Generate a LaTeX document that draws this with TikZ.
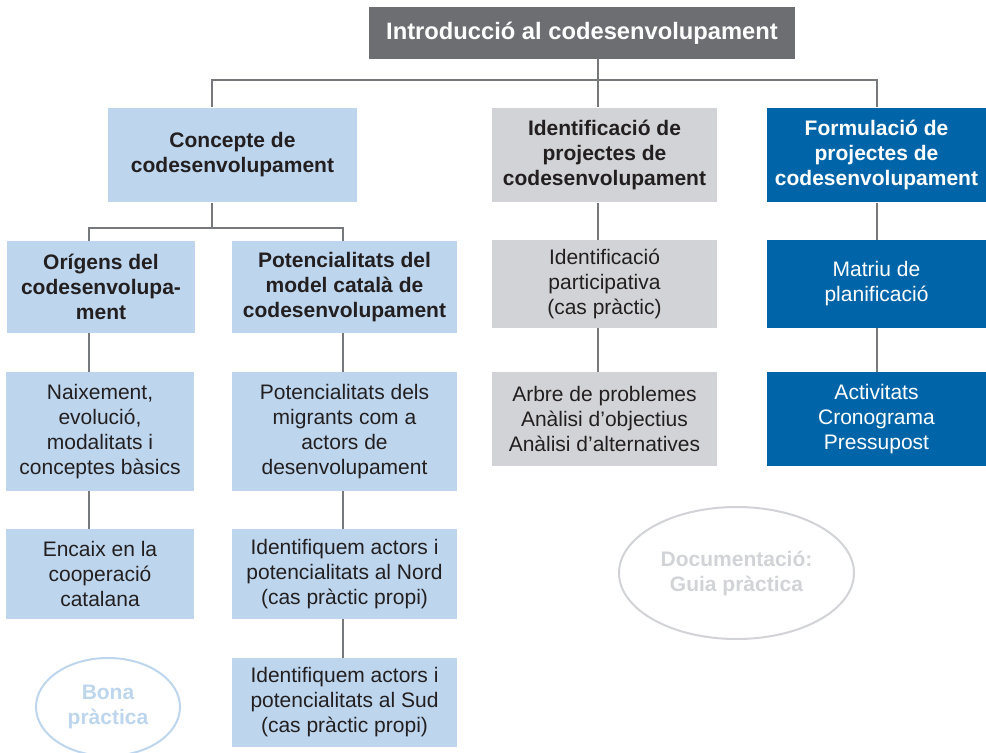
\documentclass[tikz,border=0pt]{standalone}
\usepackage{fontspec}
\setmainfont{Liberation Sans}
\usepackage{tikz}
\usepackage{xcolor}
\usetikzlibrary{shapes.geometric}

\definecolor{lightblue}{HTML}{BDD6EE}
\definecolor{lightgrey}{HTML}{D1D3D6}
\definecolor{darkblue}{HTML}{0065A8}
\definecolor{titlegrey}{HTML}{6D6E72}
\definecolor{linegrey}{HTML}{77787B}
\definecolor{textdark}{HTML}{231F20}

\tikzset{
    box/.style={rectangle, inner sep=0pt, align=center, text=textdark,
        font=\fontsize{15.75}{18.75}\selectfont},
    bluebox/.style={box, fill=lightblue},
    greybox/.style={box, fill=lightgrey},
    navybox/.style={box, fill=darkblue, text=white},
    headbox/.style={font=\fontsize{15.75}{18.75}\selectfont\bfseries},
    link/.style={draw=linegrey, line width=1.5pt},
    bubble/.style={ellipse, line width=1.5pt, align=center,
        font=\fontsize{15.75}{18.75}\selectfont\bfseries}
}

\begin{document}
\begin{tikzpicture}[x=0.75pt, y=-0.75pt]
    \useasboundingbox (0,0) rectangle (986,753);

    % Title
    \node[box, fill=titlegrey, text=white, minimum width=319.5pt, minimum height=39pt,
        font=\fontsize{17.8}{21}\selectfont\bfseries] (intro) at (582,33) {Introducció al codesenvolupament};

    % Main blocks
    \node[bluebox, headbox, minimum width=186.75pt, minimum height=71pt] (concepte) at (232.5,155) {Concepte de\\codesenvolupament};
    \node[greybox, headbox, minimum width=168.75pt, minimum height=71pt] (identif) at (604.5,155) {Identificació de\\projectes de\\codesenvolupament};
    \node[navybox, headbox, minimum width=164.25pt, minimum height=71pt] (formul) at (876.5,155) {Formulació de\\projectes de\\codesenvolupament};

    % Concepte branch
    \node[bluebox, headbox, minimum width=141pt, minimum height=69pt] (origens) at (101,287) {Orígens del\\codesenvolupa-\\ment};
    \node[bluebox, headbox, minimum width=168.75pt, minimum height=69pt] (potenc) at (344.5,287) {Potencialitats del\\model català de\\codesenvolupament};
    \node[bluebox, minimum width=141pt, minimum height=89.25pt] (naix) at (100,431.5) {Naixement,\\evolució,\\modalitats i\\conceptes bàsics};
    \node[bluebox, minimum width=141pt, minimum height=67.5pt] (encaix) at (100,574) {Encaix en la\\cooperació\\catalana};
    \node[bluebox, minimum width=168.75pt, minimum height=89.25pt] (potdels) at (344.5,431.5) {Potencialitats dels\\migrants com a\\actors de\\desenvolupament};
    \node[bluebox, minimum width=168.75pt, minimum height=67.5pt] (nord) at (344.5,574) {Identifiquem actors i\\potencialitats al Nord\\(cas pràctic propi)};
    \node[bluebox, minimum width=168.75pt, minimum height=66.75pt] (sud) at (344.5,702.5) {Identifiquem actors i\\potencialitats al Sud\\(cas pràctic propi)};

    % Identificacio branch
    \node[greybox, minimum width=168.75pt, minimum height=66pt] (idpart) at (604.5,284) {Identificació\\participativa\\(cas pràctic)};
    \node[greybox, minimum width=168.75pt, minimum height=70.5pt] (arbre) at (604.5,419) {Arbre de problemes\\Anàlisi d’objectius\\Anàlisi d’alternatives};

    % Formulacio branch
    \node[navybox, minimum width=164.25pt, minimum height=66pt] (matriu) at (876.5,284) {Matriu de\\planificació};
    \node[navybox, minimum width=164.25pt, minimum height=70.5pt] (activ) at (876.5,419) {Activitats\\Cronograma\\Pressupost};

    % Resources
    \node[bubble, draw=lightblue, text=lightblue, minimum width=108pt, minimum height=73.5pt] (bona) at (108,707) {Bona\\pràctica};
    \node[bubble, draw=lightgrey, text=lightgrey, minimum width=176.25pt, minimum height=99pt] (docu) at (736.5,573) {Documentació:\\Guia pràctica};

    % Connectors
    \coordinate (trunk) at (598,80);
    \coordinate (split) at (212,228);
    \draw[link] (intro.south -| trunk) -- (identif.north -| trunk);
    \draw[link] (concepte.north -| split) |- (trunk) -| (formul.north);
    \draw[link] (concepte.south -| split) -- (split);
    \draw[link] (origens.north -| 89,0) |- (split) -| (potenc.north -| 343,0);
    \draw[link] (origens.south -| 89,0) -- (naix.north -| 89,0);
    \draw[link] (naix.south -| 89,0) -- (encaix.north -| 89,0);
    \draw[link] (potenc.south -| 343,0) -- (potdels.north -| 343,0);
    \draw[link] (potdels.south -| 343,0) -- (nord.north -| 343,0);
    \draw[link] (nord.south -| 343,0) -- (sud.north -| 343,0);
    \draw[link] (identif.south -| trunk) -- (idpart.north -| trunk);
    \draw[link] (idpart.south -| trunk) -- (arbre.north -| trunk);
    \draw[link] (formul) -- (matriu);
    \draw[link] (matriu) -- (activ);
\end{tikzpicture}
\end{document}
